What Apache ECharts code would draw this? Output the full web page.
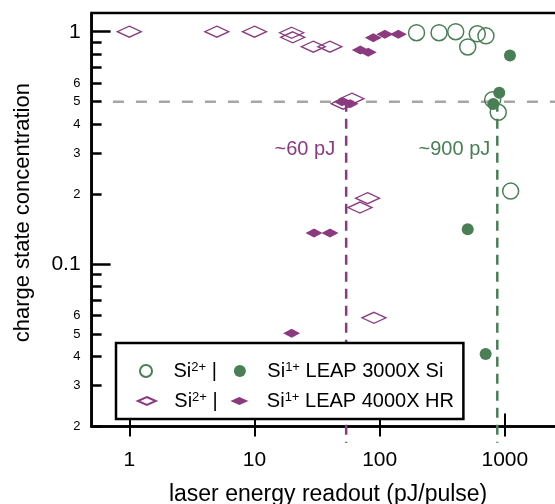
<!DOCTYPE html>
<html><head><meta charset="utf-8">
<script src="https://cdn.jsdelivr.net/npm/echarts@6/dist/echarts.min.js"></script>
<style>html,body{margin:0;padding:0;background:#fff}#c{width:555px;height:504px}</style>
</head><body><div id="c"></div>
<script>
const GREEN = '#4a7f56';
const PURPLE = '#8b3a80';
const GRAY = '#a6a6a6';
const FONT = 'Liberation Sans, Arial, Helvetica, sans-serif';

// [laser energy (pJ/pulse), charge state concentration]
// LEAP 3000X Si
const si2_3000X = [[197,0.99],[298,0.99],[405,1.0],[602,0.98],[706,0.96],[505,0.86],[799,0.51],[885,0.45],[1112,0.206]];
const si1_3000X = [[1098,0.79],[902,0.546],[808,0.488],[505,0.141],[702,0.041]];
// LEAP 4000X HR
const si2_4000X = [[1,1.0],[5,1.0],[10,1.0],[19.8,0.99],[20.2,0.946],[29.5,0.862],[40,0.862],[51,0.49],[60,0.515],[80,0.192],[69.6,0.175],[90,0.0587]];
const si1_4000X = [[70,0.834],[81,0.815],[89,0.942],[110,0.975],[141,0.975],[50,0.50],[58,0.49],[29.9,0.136],[40.1,0.136],[19.8,0.0503]];

// reference lines
const thresholdConc = 0.5;
const onset4000X = 54;     // ~60 pJ
const onset3000X = 870;    // ~900 pJ
const lineBottom = 0.017;
const labelConc = 0.31;
const onsetLabels = ['~60 pJ', '~900 pJ'];

// axes
const xTicks = [1, 10, 100, 1000];
const yMajor = [0.1, 1];
const yMinor = [0.02,0.03,0.04,0.05,0.06,0.07,0.08,0.09,0.2,0.3,0.4,0.5,0.6,0.7,0.8,0.9];
const yMinorLabeled = [0.02,0.03,0.04,0.05,0.06,0.2,0.3,0.4,0.5,0.6];
const xMin = 0.5, xMax = 3000, yMin = 0.02, yMax = 1.204;

function legendRich(gap) {
  return {
    g: {width: gap, fontSize: 20},
    b: {fontSize: 20, fontFamily: FONT, color: '#000'},
    s: {fontSize: 13, fontFamily: FONT, color: '#000', verticalAlign: 'top'}
  };
}
const legendNames = {
  'Si2+ 3000X': '{g| }{b|Si}{s|2+}{b| |}',
  'Si1+ 3000X': '{g| }{b|Si}{s|1+}{b| LEAP 3000X Si}',
  'Si2+ 4000X': '{g| }{b|Si}{s|2+}{b| |}',
  'Si1+ 4000X': '{g| }{b|Si}{s|1+}{b| LEAP 4000X HR}'
};

const chart = echarts.init(document.getElementById('c'), null, {renderer: 'canvas'});
chart.setOption({
  animation: false,
  textStyle: {fontFamily: FONT},
  grid: {left: 91.6, right: -9.6, top: 13, bottom: 77.6, outerBoundsMode: 'none', containLabel: false,
    show: true, borderColor: '#000', borderWidth: 2.5, backgroundColor: 'transparent'},
  legend: [{
    selectedMode: false,
    left: 116, top: 343,
    padding: [18, 20, 38, 23],
    orient: 'horizontal',
    itemGap: 17,
    itemWidth: 12, itemHeight: 12, symbolKeepAspect: false,
    borderColor: '#000', borderWidth: 2.5, backgroundColor: '#fff',
    z: 4,
    data: [{name: 'Si2+ 3000X', icon: 'circle'}, {name: 'Si1+ 3000X', icon: 'circle'}],
    formatter: n => legendNames[n],
    textStyle: {rich: legendRich(16.5)}
  }, {
    selectedMode: false,
    left: 116, top: 373,
    padding: [18, 20, 6, 20.8],
    orient: 'horizontal',
    itemGap: 12.7,
    itemWidth: 18, itemHeight: 8, symbolKeepAspect: false,
    borderWidth: 0, backgroundColor: 'transparent',
    z: 6,
    data: [{name: 'Si2+ 4000X', icon: 'diamond'}, {name: 'Si1+ 4000X', icon: 'diamond'}],
    formatter: n => legendNames[n],
    textStyle: {rich: legendRich(13.5)}
  }],
  xAxis: [{
    type: 'log', logBase: 10, min: xMin, max: xMax, position: 'bottom',
    axisLine: {show: true, lineStyle: {color: '#000', width: 2.5}},
    axisTick: {show: true, inside: true, length: 13, customValues: xTicks, lineStyle: {color: '#000', width: 2}},
    axisLabel: {customValues: xTicks, fontSize: 21, margin: 23, color: '#000', fontFamily: FONT, formatter: v => String(Math.round(v))},
    splitLine: {show: false}, minorTick: {show: false},
    name: 'laser energy readout (pJ/pulse)', nameLocation: 'middle', nameGap: 57,
    nameTextStyle: {fontSize: 23, color: '#000', fontFamily: FONT}
  }, {
    type: 'log', logBase: 10, min: xMin, max: xMax, position: 'bottom',
    axisLine: {show: false},
    axisTick: {show: true, inside: false, length: 10, customValues: xTicks, lineStyle: {color: '#000', width: 2}},
    axisLabel: {show: false},
    splitLine: {show: false}
  }],
  yAxis: [{
    type: 'log', logBase: 10, min: yMin, max: yMax, position: 'left',
    axisLine: {show: true, lineStyle: {color: '#000', width: 2.5}},
    axisTick: {show: true, inside: true, length: 19, customValues: yMajor, lineStyle: {color: '#000', width: 2.5}},
    axisLabel: {customValues: yMajor, fontSize: 21, margin: 11, color: '#000', fontFamily: FONT, formatter: v => (v >= 1 ? '1' : '0.1')},
    splitLine: {show: false},
    name: 'charge state concentration', nameLocation: 'middle', nameGap: 58,
    nameTextStyle: {fontSize: 22, color: '#000', fontFamily: FONT, padding: [0, 0, 0, 14]}
  }, {
    type: 'log', logBase: 10, min: yMin, max: yMax, position: 'left',
    axisLine: {show: false},
    axisTick: {show: true, inside: true, length: 10, customValues: yMinor, lineStyle: {color: '#000', width: 2.5}},
    axisLabel: {customValues: yMinorLabeled, fontSize: 13, margin: 11, color: '#000', fontFamily: FONT,
      formatter: v => String(Math.round(v / Math.pow(10, Math.floor(Math.log10(v) + 1e-9))))},
    splitLine: {show: false}
  }],
  series: [
    {
      type: 'line', name: 'threshold', data: [[0.74, thresholdConc], [xMax, thresholdConc]],
      symbol: 'none', z: 1, silent: true,
      lineStyle: {color: GRAY, width: 2.5, type: [11, 12]}
    },
    {
      type: 'line', name: 'onset4000', data: [[onset4000X, thresholdConc], [onset4000X, lineBottom]],
      symbol: 'none', z: 1, silent: true, clip: false,
      lineStyle: {color: PURPLE, width: 2.5, type: [10, 7]},
      markPoint: {symbol: 'circle', symbolSize: 0, data: [{coord: [onset4000X, labelConc]}],
        label: {show: true, position: 'left', distance: 11, formatter: onsetLabels[0], color: PURPLE, fontSize: 20, fontFamily: FONT}}
    },
    {
      type: 'line', name: 'onset3000', data: [[onset3000X, thresholdConc], [onset3000X, lineBottom]],
      symbol: 'none', z: 1, silent: true, clip: false,
      lineStyle: {color: GREEN, width: 2.5, type: [10, 7]},
      markPoint: {symbol: 'circle', symbolSize: 0, data: [{coord: [onset3000X, labelConc]}],
        label: {show: true, position: 'left', distance: 7, formatter: onsetLabels[1], color: GREEN, fontSize: 20, fontFamily: FONT}}
    },
    {
      type: 'scatter', name: 'Si2+ 4000X', data: si2_4000X, z: 3,
      symbol: 'diamond', symbolSize: [24, 11],
      itemStyle: {color: 'rgba(255,255,255,0)', borderColor: PURPLE, borderWidth: 1.5, opacity: 1}
    },
    {
      type: 'scatter', name: 'Si1+ 4000X', data: si1_4000X, z: 3,
      symbol: 'diamond', symbolSize: [17, 9],
      itemStyle: {color: PURPLE, borderWidth: 0, opacity: 1}
    },
    {
      type: 'scatter', name: 'Si2+ 3000X', data: si2_3000X, z: 3,
      symbol: 'circle', symbolSize: 16,
      itemStyle: {color: 'rgba(255,255,255,0)', borderColor: GREEN, borderWidth: 1.5, opacity: 1}
    },
    {
      type: 'scatter', name: 'Si1+ 3000X', data: si1_3000X, z: 3,
      symbol: 'circle', symbolSize: 12,
      itemStyle: {color: GREEN, borderWidth: 0, opacity: 1}
    }
  ]
});
</script>
</body></html>
